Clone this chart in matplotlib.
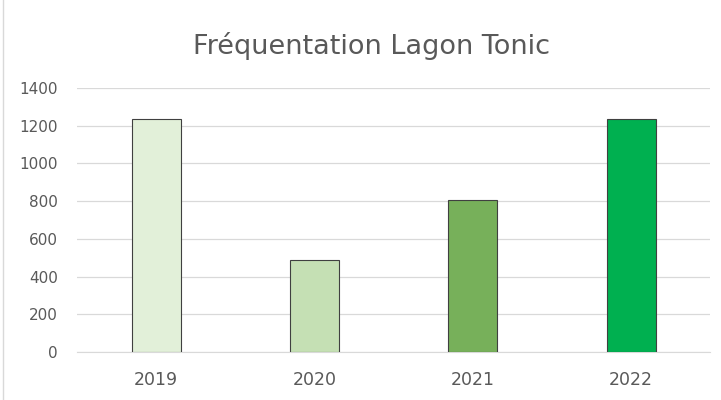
import matplotlib.pyplot as plt
from matplotlib.patches import Rectangle

years = ['2019', '2020', '2021', '2022']
visitors = [1235, 488, 805, 1235]
bar_colors = ['#E2F0D9', '#C5E0B4', '#77B05A', '#00B050']

fig = plt.figure(figsize=(7.21, 4.0), dpi=100)
ax = fig.add_axes([0.107, 0.12, 0.878, 0.66])

ax.bar(years, visitors, width=0.31, color=bar_colors, edgecolor='#404040', linewidth=0.8, zorder=3)

ax.set_ylim(0, 1400)
ax.set_yticks(range(0, 1401, 200))
ax.set_xlim(-0.5, 3.5)
ax.grid(axis='y', color='#D9D9D9', linewidth=0.9, zorder=0)
for s in ['top', 'right', 'left']:
    ax.spines[s].set_visible(False)
ax.spines['bottom'].set_color('#D9D9D9')
ax.tick_params(axis='both', length=0, colors='#595959')
ax.tick_params(axis='x', labelsize=12.5, pad=14)
ax.tick_params(axis='y', labelsize=11, pad=14)

fig.text(0.515, 0.885, 'Fréquentation Lagon Tonic', ha='center', va='center',
         fontsize=19.5, color='#595959')

# chart border
fig.patches.append(Rectangle((0.004, -0.01), 1.0, 1.02, transform=fig.transFigure,
                             fill=False, edgecolor='#D9D9D9', linewidth=1))

fig.savefig('out.png', dpi=100)
